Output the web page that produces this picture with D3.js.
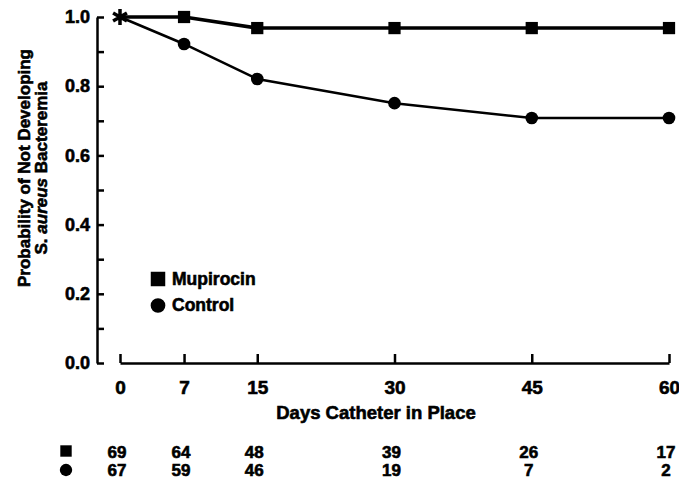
<!DOCTYPE html>
<html>
<head>
<meta charset="utf-8">
<script src="https://cdn.jsdelivr.net/npm/d3@7"></script>
<style>
  body { margin: 0; background: #fff; }
  text { font-family: "Liberation Sans", Arial, sans-serif; font-weight: bold; fill: #000; stroke: #000; stroke-width: 0.6px; }
</style>
</head>
<body>
<div id="chart"></div>
<script>
// days on the x axis
const days = [0, 7, 15, 30, 45, 60];
// Kaplan-Meier survival estimates
const mupirocin = [1.0, 1.0, 0.968, 0.968, 0.968, 0.968];
const control = [1.0, 0.922, 0.821, 0.751, 0.708, 0.708];
// numbers at risk
const mupirocinRisk = [69, 64, 48, 39, 26, 17];
const controlRisk = [67, 59, 46, 19, 7, 2];
const yMajor = [0, 0.2, 0.4, 0.6, 0.8, 1.0];
const yMinor = [0.1, 0.3, 0.5, 0.7, 0.9];

const width = 679, height = 481;

const svg = d3.select("#chart").append("svg")
  .attr("width", width)
  .attr("height", height);

const x = d3.scaleLinear().domain([0, 60]).range([120, 669]);
const y = d3.scaleLinear().domain([0, 1]).range([363, 17]);

// y axis, ticks pointing inward
const yAxis = svg.append("g")
  .attr("transform", "translate(97,0)")
  .call(d3.axisLeft(y).tickValues(yMajor).tickFormat(d3.format(".1f"))
    .tickSizeInner(-7).tickSizeOuter(0).tickPadding(7));
svg.append("g")
  .attr("transform", "translate(97,0)")
  .call(d3.axisLeft(y).tickValues(yMinor).tickFormat("")
    .tickSizeInner(-7).tickSizeOuter(0))
  .select(".domain").remove();

// x axis, starts at day 0 and is detached from y axis
const xAxis = svg.append("g")
  .attr("transform", "translate(0,363)")
  .call(d3.axisBottom(x).tickValues(days).tickFormat(d3.format("d"))
    .tickSizeInner(-9).tickSizeOuter(0).tickPadding(18));

svg.selectAll(".domain, .tick line")
  .attr("stroke", "#000")
  .attr("stroke-width", 2.5);
yAxis.selectAll("text").style("font-size", "18px").attr("fill", "#000");
xAxis.selectAll("text").style("font-size", "19px").attr("fill", "#000");

// axis titles
svg.append("text")
  .attr("x", 376).attr("y", 419)
  .attr("text-anchor", "middle")
  .style("font-size", "18.5px")
  .text("Days Catheter in Place");

const yt = svg.append("text")
  .attr("transform", "translate(30,168) rotate(-90)")
  .attr("text-anchor", "middle")
  .style("font-size", "17px");
yt.append("tspan").attr("x", 0).attr("y", 0).text("Probability of Not Developing");
const l2 = yt.append("tspan").attr("x", 0).attr("y", 17);
l2.append("tspan").text("S. ");
l2.append("tspan").style("font-style", "italic").text("aureus");
l2.append("tspan").text(" Bacteremia");

// curves
const line = d3.line()
  .x((d, i) => x(days[i]))
  .y(d => y(d));

svg.append("path")
  .datum(mupirocin)
  .attr("fill", "none")
  .attr("stroke", "#000")
  .attr("stroke-width", 3.5)
  .attr("d", line);

svg.append("path")
  .datum(control)
  .attr("fill", "none")
  .attr("stroke", "#000")
  .attr("stroke-width", 2.5)
  .attr("d", line);

const sq = d3.symbol().type(d3.symbolSquare).size(150);
const ci = d3.symbol().type(d3.symbolCircle).size(125);
const star = d3.symbol().type(d3.symbolAsterisk).size(180);

svg.selectAll(".msq")
  .data(mupirocin.slice(1))
  .enter().append("path")
  .attr("class", "msq")
  .attr("d", sq)
  .attr("transform", (d, i) => "translate(" + x(days[i + 1]) + "," + y(d) + ")");

svg.selectAll(".cci")
  .data(control.slice(1))
  .enter().append("path")
  .attr("class", "cci")
  .attr("d", ci)
  .attr("transform", (d, i) => "translate(" + x(days[i + 1]) + "," + y(d) + ")");

// day 0: both groups start at 1.0
svg.append("path")
  .attr("d", star)
  .attr("fill", "none")
  .attr("stroke", "#000")
  .attr("stroke-width", 3.5)
  .attr("transform", "translate(" + x(days[0]) + "," + y(mupirocin[0]) + ")");

// legend
svg.append("path").attr("d", d3.symbol().type(d3.symbolSquare).size(210)).attr("transform", "translate(158,279)");
svg.append("text").attr("x", 172).attr("y", 285).style("font-size", "17.5px").text("Mupirocin");
svg.append("path").attr("d", d3.symbol().type(d3.symbolCircle).size(170)).attr("transform", "translate(158,305.5)");
svg.append("text").attr("x", 172).attr("y", 311).style("font-size", "17.5px").text("Control");

// numbers at risk
svg.append("path").attr("d", d3.symbol().type(d3.symbolSquare).size(130)).attr("transform", "translate(66,451)");
svg.append("path").attr("d", d3.symbol().type(d3.symbolCircle).size(120)).attr("transform", "translate(66,470)");

svg.selectAll(".riskM")
  .data(mupirocinRisk)
  .enter().append("text")
  .attr("class", "riskM")
  .attr("x", (d, i) => x(days[i]) - 3)
  .attr("y", 458)
  .attr("text-anchor", "middle")
  .style("font-size", "17px")
  .text(d => d);

svg.selectAll(".riskC")
  .data(controlRisk)
  .enter().append("text")
  .attr("class", "riskC")
  .attr("x", (d, i) => x(days[i]) - 3)
  .attr("y", 476)
  .attr("text-anchor", "middle")
  .style("font-size", "17px")
  .text(d => d);
</script>
</body>
</html>
